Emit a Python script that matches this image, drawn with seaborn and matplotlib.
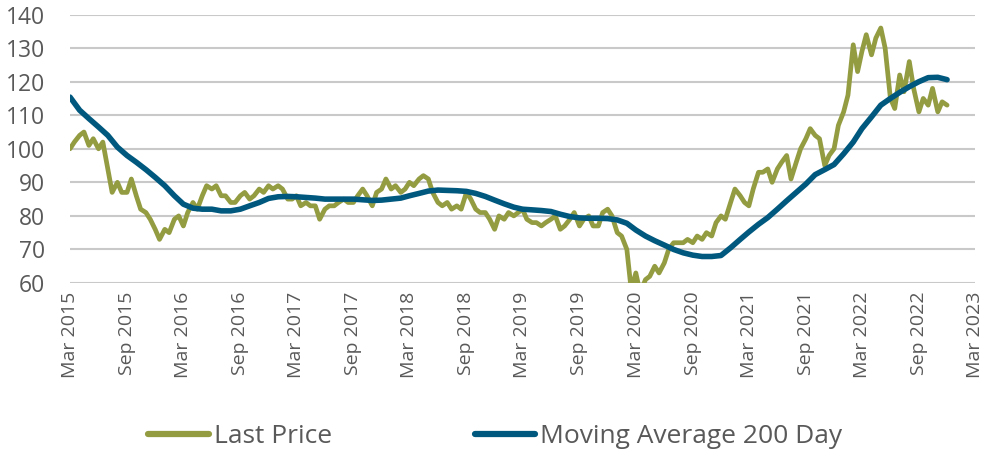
import pandas as pd
import matplotlib.pyplot as plt
import matplotlib.dates as mdates
import seaborn as sns

# -------------------------
# Data
# -------------------------
# semi-monthly closes, Mar 2015 -> Dec 2022
last_price = [
    100, 102, 104, 105, 101, 103, 100, 102, 94, 87,
    90, 87, 87, 91, 86, 82, 81, 79, 76, 73,
    76, 75, 79, 80, 77, 81, 84, 82, 86, 89,
    88, 89, 86, 86, 84, 84, 86, 87, 85, 86,
    88, 87, 89, 88, 89, 88, 85, 85, 86, 83,
    84, 83, 83, 79, 82, 83, 83, 84, 85, 84,
    84, 86, 88, 86, 83, 87, 88, 91, 88, 89,
    87, 88, 90, 89, 91, 92, 91, 87, 84, 83,
    84, 82, 83, 82, 87, 85, 82, 81, 81, 79,
    76, 80, 79, 81, 80, 81, 82, 79, 78, 78,
    77, 78, 79, 80, 76, 77, 79, 81, 77, 79,
    80, 77, 77, 81, 82, 80, 75, 74, 70, 58,
    63, 57, 61, 62, 65, 63, 66, 70, 72, 72,
    72, 73, 72, 74, 73, 75, 74, 78, 80, 79,
    84, 88, 86, 84, 83, 88, 93, 93, 94, 90,
    94, 96, 98, 91, 96, 100, 103, 106, 104, 103,
    95, 98, 100, 107, 111, 116, 131, 123, 129, 134,
    128, 133, 136, 130, 115, 112, 122, 117, 126, 118,
    111, 115, 113, 118, 111, 114, 113,
]

# monthly 200-day moving average, Mar 2015 -> Dec 2022
moving_avg = [
    115.4, 111.5, 109.0, 106.5, 104.0, 100.5, 98.0, 96.0, 93.8, 91.5,
    89.0, 86.0, 83.5, 82.3, 82.0, 82.0, 81.5, 81.5, 82.0, 83.0,
    84.0, 85.2, 85.7, 85.8, 85.7, 85.5, 85.3, 85.0, 85.0, 85.0,
    85.0, 84.8, 84.6, 84.7, 85.0, 85.3, 86.0, 86.7, 87.4, 87.7,
    87.6, 87.5, 87.3, 86.7, 85.8, 84.7, 83.6, 82.6, 82.0, 81.8,
    81.6, 81.3, 80.5, 79.8, 79.4, 79.3, 79.3, 79.2, 78.8, 77.8,
    75.8, 74.0, 72.6, 71.3, 70.0, 69.0, 68.3, 67.9, 67.9, 68.2,
    70.5, 73.0, 75.2, 77.5, 79.5, 82.0, 84.5, 87.0, 89.5, 92.3,
    93.8, 95.3, 98.5, 102.0, 106.0, 109.5, 113.0, 115.0, 116.8, 118.5,
    120.0, 121.2, 121.3, 120.6,
]

y_ticks = [60, 70, 80, 90, 100, 110, 120, 130, 140]

OLIVE = "#949C42"
NAVY = "#00587F"
GREY = "#595959"

price_df = pd.DataFrame({
    "date": pd.date_range("2015-03-01", periods=len(last_price), freq="SMS"),
    "value": last_price,
})
ma_df = pd.DataFrame({
    "date": pd.date_range("2015-03-01", periods=len(moving_avg), freq="MS"),
    "value": moving_avg,
})

sns.set_theme(style="white")
plt.rcParams["font.family"] = ["Open Sans", "DejaVu Sans"]


def main():
    fig = plt.figure(figsize=(9.89, 4.55), dpi=100)
    ax = fig.add_axes([0.0708, 0.378, 0.915, 0.590])

    sns.lineplot(data=price_df, x="date", y="value", ax=ax, color=OLIVE,
                 linewidth=3.4, label="Last Price", legend=False,
                 solid_capstyle="round", solid_joinstyle="round")
    sns.lineplot(data=ma_df, x="date", y="value", ax=ax, color=NAVY,
                 linewidth=4.0, label="Moving Average 200 Day", legend=False,
                 solid_capstyle="round", solid_joinstyle="round")

    ax.set_ylim(60, 140)
    ax.set_yticks(y_ticks)
    ax.set_xlim(pd.Timestamp("2015-03-01"), pd.Timestamp("2023-03-01"))
    ax.xaxis.set_major_locator(mdates.MonthLocator(bymonth=[3, 9]))
    ax.xaxis.set_major_formatter(mdates.DateFormatter("%b %Y"))

    ax.grid(axis="y", color="#C9C9C9", linewidth=1.5)
    ax.set_axisbelow(True)
    for s in ax.spines.values():
        s.set_visible(False)
    ax.set_xlabel("")
    ax.set_ylabel("")

    ax.tick_params(axis="y", length=0, pad=18, labelsize=16.5, labelcolor=GREY)
    ax.tick_params(axis="x", length=0, pad=6, labelsize=14, labelcolor=GREY,
                   labelrotation=90)

    handles, labels = ax.get_legend_handles_labels()
    leg = fig.legend(handles, labels, loc="center", bbox_to_anchor=(0.501, 0.04),
                     ncol=2, frameon=False, fontsize=19, handlelength=2.3,
                     handletextpad=0.19, columnspacing=5.4)
    for h in leg.legend_handles:
        h.set_linewidth(4.5)
        h.set_solid_capstyle("round")
    for t in leg.get_texts():
        t.set_color(GREY)

    fig.savefig("out.png", dpi=100)
    plt.close(fig)


if __name__ == "__main__":
    main()
